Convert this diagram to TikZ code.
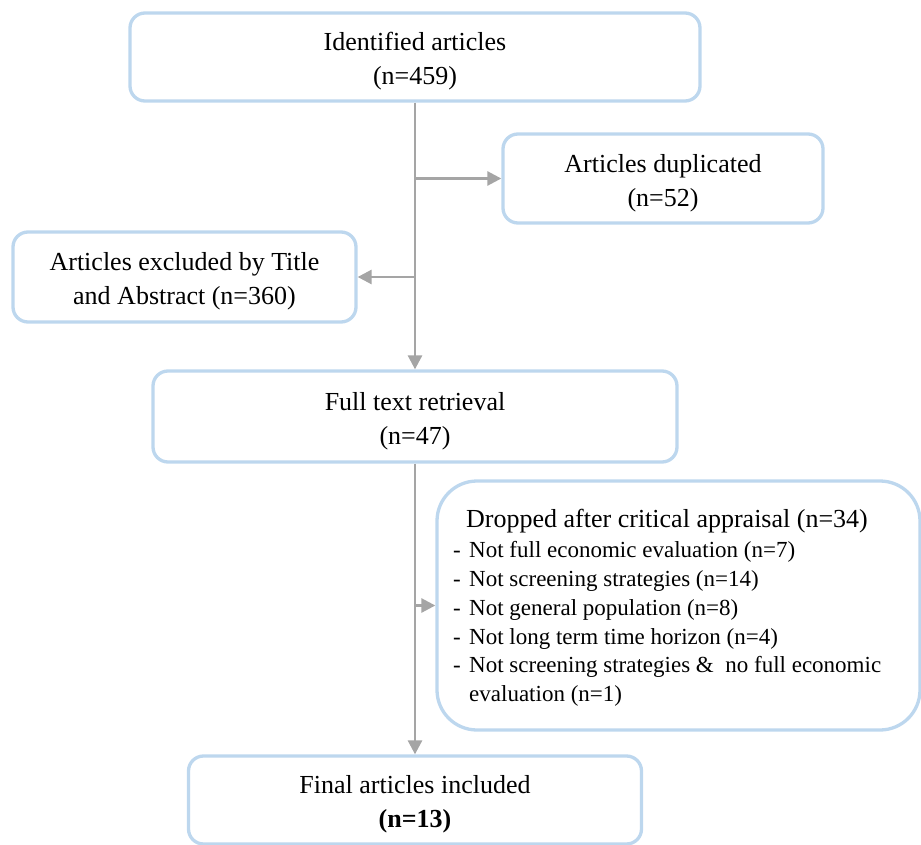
\documentclass[tikz,border=0pt]{standalone}
\usepackage{fontspec}
\setmainfont{Liberation Serif}
\usetikzlibrary{arrows.meta}
\definecolor{boxblue}{HTML}{BDD7EE}
\definecolor{linegray}{HTML}{A5A5A5}
\newcommand{\twolines}[2]{\raisebox{-4pt}[\height][\depth]{\begin{tabular}{@{}c@{}}#1\\#2\end{tabular}}}
\tikzset{
  flowbox/.style={draw=boxblue, line width=3.3pt, rounded corners=15pt, fill=white,
    align=center, inner sep=0pt, font=\fontsize{26}{34}\selectfont},
  conn/.style={draw=linegray, line width=2.7pt, -{Triangle[length=14pt,width=14pt]}},
  listtxt/.style={anchor=base west, inner sep=0pt, font=\fontsize{23}{29}\selectfont},
  titletxt/.style={anchor=base west, inner sep=0pt, font=\fontsize{26}{33}\selectfont}
}
\begin{document}
\begin{tikzpicture}[x=1pt,y=-1pt]
\useasboundingbox (0,0) rectangle (921,845);
\node[flowbox, minimum width=570pt, minimum height=88pt] (id) at (415,57) {\twolines{Identified articles}{(n=459)}};
\node[flowbox, minimum width=320pt, minimum height=89pt] (dup) at (663,178.5) {\twolines{Articles duplicated}{(n=52)}};
\node[flowbox, minimum width=343pt, minimum height=90pt] (exc) at (184.5,277) {\twolines{Articles excluded by Title}{and Abstract (n=360)}};
\node[flowbox, minimum width=524pt, minimum height=91pt] (full) at (415,416.5) {\twolines{Full text retrieval}{(n=47)}};
\node[flowbox, rounded corners=40pt, minimum width=483pt, minimum height=249pt] (drop) at (678.5,605.5) {};
\node[flowbox, minimum width=453pt, minimum height=88pt] (fin) at (415,800) {\twolines{Final articles included}{\textbf{(n=13)}}};

\node[titletxt] (dt) at (466,527) {Dropped after critical appraisal (n=34)};
\node[listtxt] (d1) at (453,557) {-};
\node[listtxt] (t1) at (469,557) {Not full economic evaluation (n=7)};
\node[listtxt] (d2) at (453,586) {-};
\node[listtxt] (t2) at (469,586) {Not screening strategies (n=14)};
\node[listtxt] (d3) at (453,615) {-};
\node[listtxt] (t3) at (469,615) {Not general population (n=8)};
\node[listtxt] (d4) at (453,644) {-};
\node[listtxt] (t4) at (469,644) {Not long term time horizon (n=4)};
\node[listtxt] (d5) at (453,672) {-};
\node[listtxt] (t5) at (469,672) {Not screening strategies \&\ \ no full economic};
\node[listtxt] (t6) at (469,701) {evaluation (n=1)};

\draw[conn] (id.south) -- (full.north);
\draw[conn] (id.south |- dup.west) -- (dup.west);
\draw[conn] (id.south |- exc.east) -- (exc.east);
\draw[conn] (full.south) -- (fin.north);
\draw[conn] (full.south |- drop.west) -- (drop.west);
\end{tikzpicture}
\end{document}
